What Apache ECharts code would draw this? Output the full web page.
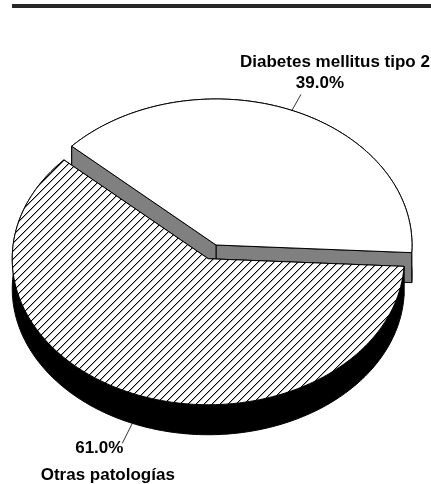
<!DOCTYPE html>
<html><head><meta charset="utf-8">
<script src="https://cdn.jsdelivr.net/npm/echarts@6/dist/echarts.min.js"></script>
<style>html,body{margin:0;padding:0;background:#fff}#c{width:431px;height:484px}</style>
</head><body><div id="c"></div>
<script>
// ---- data ----
const categories = ['Diabetes mellitus tipo 2', 'Otras patologías'];
const values = [39.0, 61.0];

// ---- layout / style (not data) ----
const L = { cx: 216, cy: 245, rx: 196, ry: 146, depth: 30, startAngle: -3 };
const sliceStyle = [
  { explode: 0, top: 'white', side: '#808080', nameFirst: true,
    leader: [9, -16], nameOff: [34, -32.5], pctOff: [19, -11.5] },
  { explode: 20, top: 'hatch', side: '#000000', nameFirst: false,
    leader: [-10, 20], nameOff: [-14.5, 32], pctOff: [-23, 5] }
];

// hatch pattern
const pc = document.createElement('canvas'); pc.width = 8; pc.height = 8;
const g = pc.getContext('2d');
g.fillStyle = '#fff'; g.fillRect(0, 0, 8, 8);
g.fillStyle = 'rgba(0,0,0,0.35)';
for (let k = 0; k < 8; k++) g.fillRect((k + 1) % 8, 7 - k, 1, 1);
g.fillStyle = '#000';
for (let k = 0; k < 8; k++) g.fillRect(k, 7 - k, 1, 1);
const hatch = { image: pc, repeat: 'repeat' };

const total = values.reduce((s, v) => s + v, 0);
const angles = [];
let acc = L.startAngle;
values.forEach(v => { const span = v / total * 360; angles.push([acc, acc + span]); acc += span; });

function pt(cx, cy, a) {
  const r = a * Math.PI / 180;
  return [cx + L.rx * Math.cos(r), cy - L.ry * Math.sin(r)];
}
function arc(cx, cy, a1, a2) {
  const pts = [];
  const n = Math.max(2, Math.ceil(Math.abs(a2 - a1)));
  for (let k = 0; k <= n; k++) pts.push(pt(cx, cy, a1 + (a2 - a1) * k / n));
  return pts;
}

function renderItem(params, api) {
  const i = params.dataIndex;
  const st = sliceStyle[i];
  const [a1, a2] = angles[i];
  const mid = (a1 + a2) / 2;
  const mr = mid * Math.PI / 180;
  const cx = L.cx + st.explode * Math.cos(mr);
  const cy = L.cy - st.explode * Math.sin(mr) * L.ry / L.rx;
  const D = L.depth;
  const stroke = { stroke: '#000', lineWidth: 1 };
  const children = [];
  // outer side
  const topArc = arc(cx, cy, a1, a2);
  const botArc = arc(cx, cy + D, a2, a1);
  children.push({ type: 'polygon', shape: { points: topArc.concat(botArc) },
    style: Object.assign({ fill: st.side }, stroke) });
  // radial cut faces
  [a1, a2].forEach(a => {
    const r = pt(cx, cy, a);
    children.push({ type: 'polygon',
      shape: { points: [[cx, cy], r, [r[0], r[1] + D], [cx, cy + D]] },
      style: Object.assign({ fill: st.side }, stroke) });
  });
  // top face
  children.push({ type: 'polygon', shape: { points: [[cx, cy]].concat(topArc) },
    style: Object.assign({ fill: st.top === 'hatch' ? hatch : '#ffffff' }, stroke) });
  // leader line + labels
  const back = Math.sin(mr) >= 0;
  const s = pt(cx, back ? cy : cy + D, mid);
  const e = [s[0] + st.leader[0], s[1] + st.leader[1]];
  children.push({ type: 'line', shape: { x1: s[0], y1: s[1], x2: e[0], y2: e[1] },
    style: { stroke: '#000', lineWidth: 0.8 } });
  const font = 'bold 17px "Liberation Sans", Arial, sans-serif';
  const pct = (values[i] / total * 100).toFixed(1) + '%';
  const txt = (t, off) => ({ type: 'text', x: e[0] + off[0], y: e[1] + off[1],
    style: { text: t, fill: '#000', font: font, align: 'center', verticalAlign: 'middle',
      textAlign: 'center', textVerticalAlign: 'middle' } });
  children.push(txt(categories[i], st.nameOff));
  children.push(txt(pct, st.pctOff));
  return { type: 'group', children: children };
}

const chart = echarts.init(document.getElementById('c'), null, { renderer: 'canvas' });
chart.setOption({
  animation: false,
  backgroundColor: '#ffffff',
  graphic: [{ type: 'rect', shape: { x: 12, y: 4, width: 419, height: 4 },
    style: { fill: '#262626' } }],
  series: [{
    type: 'custom',
    coordinateSystem: 'none',
    renderItem: renderItem,
    data: values.map((v, i) => ({ name: categories[i], value: v }))
  }]
});
</script>
</body></html>
